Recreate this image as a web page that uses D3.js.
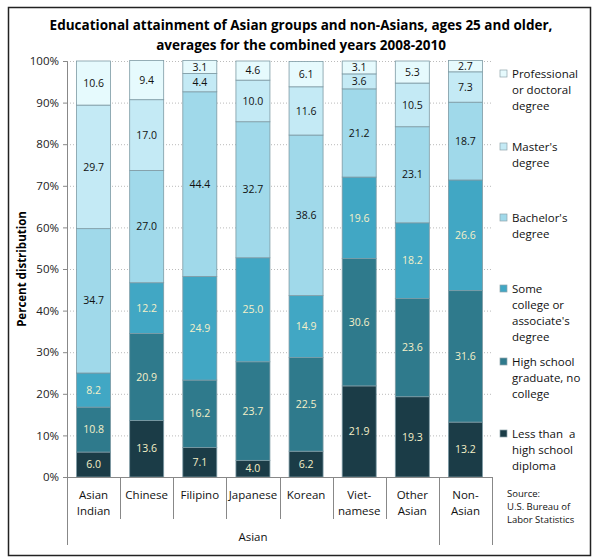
<!DOCTYPE html>
<html lang="en">

<head>
    <meta charset="utf-8">
    <script src="https://d3js.org/d3.v7.min.js"></script>
    <style>
        body { margin: 0; background: #fff; }
        svg { font-family: "Open Sans", "Noto Sans", sans-serif; }
    </style>
</head>

<body>
    <script>
        // groups along the x axis
        const categories = ['Asian Indian', 'Chinese', 'Filipino', 'Japanese', 'Korean', 'Vietnamese', 'Other Asian', 'Non-Asian'];
        const categoryLines = [['Asian', 'Indian'], ['Chinese'], ['Filipino'], ['Japanese'], ['Korean'], ['Viet-', 'namese'], ['Other', 'Asian'], ['Non-', 'Asian']];

        // series, from the bottom of the stack up
        const seriesNames = ['Less than a high school diploma', 'High school graduate, no college', 'Some college or associate\'s degree', 'Bachelor\'s degree', 'Master\'s degree', 'Professional or doctoral degree'];
        const legendLines = [
            ['Less than  a', 'high school', 'diploma'],
            ['High school', 'graduate, no', 'college'],
            ['Some', 'college or', 'associate\'s', 'degree'],
            ['Bachelor\'s', 'degree'],
            ['Master\'s', 'degree'],
            ['Professional', 'or doctoral', 'degree']
        ];

        const lessThanHS = [6.0, 13.6, 7.1, 4.0, 6.2, 21.9, 19.3, 13.2];
        const highSchool = [10.8, 20.9, 16.2, 23.7, 22.5, 30.6, 23.6, 31.6];
        const someCollege = [8.2, 12.2, 24.9, 25.0, 14.9, 19.6, 18.2, 26.6];
        const bachelors = [34.7, 27.0, 44.4, 32.7, 38.6, 21.2, 23.1, 18.7];
        const masters = [29.7, 17.0, 4.4, 10.0, 11.6, 3.6, 10.5, 7.3];
        const professional = [10.6, 9.4, 3.1, 4.6, 6.1, 3.1, 5.3, 2.7];

        const yTicks = [0, 10, 20, 30, 40, 50, 60, 70, 80, 90, 100];

        const colors = ['#1b3c47', '#2f7a8c', '#41a7c4', '#a0d9ea', '#c4eaf5', '#e6fafd'];
        const labelColors = ['#f5f0c8', '#f5f0c8', '#f5f0c8', '#111', '#111', '#111'];

        const allSeries = [lessThanHS, highSchool, someCollege, bachelors, masters, professional];
        const table = categories.map((c, i) => {
            const row = { category: c };
            seriesNames.forEach((s, j) => row[s] = allSeries[j][i]);
            return row;
        });

        const width = 598, height = 560;
        const margin = { top: 61, right: 106, bottom: 83, left: 67 };
        const w = width - margin.left - margin.right;
        const h = height - margin.top - margin.bottom;

        const svg = d3.select('body').append('svg')
            .attr('width', width)
            .attr('height', height);

        // outer frame
        svg.append('rect')
            .attr('x', 8.5).attr('y', 7.5)
            .attr('width', 582).attr('height', 548)
            .attr('fill', 'none')
            .attr('stroke', '#222')
            .attr('stroke-width', 1.5);

        svg.append('text')
            .attr('x', 301).attr('y', 30)
            .attr('text-anchor', 'middle')
            .attr('font-weight', 'bold')
            .attr('font-size', 13.5)
            .text('Educational attainment of Asian groups and non-Asians, ages 25 and older,');
        svg.append('text')
            .attr('x', 301).attr('y', 50)
            .attr('text-anchor', 'middle')
            .attr('font-weight', 'bold')
            .attr('font-size', 13.5)
            .text('averages for the combined years 2008-2010');

        const g = svg.append('g')
            .attr('transform', 'translate(' + margin.left + ',' + margin.top + ')');

        const x = d3.scaleBand()
            .domain(categories)
            .range([0, w])
            .paddingInner(0.36)
            .paddingOuter(0.18);

        const y = d3.scaleLinear()
            .domain([0, 100])
            .range([h, 0]);

        // dotted gridlines
        g.append('g')
            .selectAll('line')
            .data(yTicks.filter(t => t > 0))
            .join('line')
            .attr('x1', 0).attr('x2', w)
            .attr('y1', d => y(d) + 0.5).attr('y2', d => y(d) + 0.5)
            .attr('stroke', '#bbb')
            .attr('stroke-dasharray', '1,2');

        const yAxis = d3.axisLeft(y)
            .tickValues(yTicks)
            .tickFormat(d => d + '%')
            .tickSize(4)
            .tickPadding(4);

        g.append('g')
            .attr('id', 'y-axis')
            .call(yAxis)
            .call(s => s.selectAll('text').attr('font-size', 11.5).attr('fill', '#222').attr('font-family', '"Open Sans", sans-serif'))
            .call(s => s.selectAll('line, path').attr('stroke', '#888'));

        svg.append('text')
            .attr('transform', 'translate(26,' + (margin.top + h / 2) + ') rotate(-90)')
            .attr('text-anchor', 'middle')
            .attr('font-weight', 'bold')
            .attr('font-size', 11.5)
            .text('Percent distribution');

        const stacked = d3.stack().keys(seriesNames)(table);

        const layers = g.selectAll('g.layer')
            .data(stacked)
            .join('g')
            .attr('class', 'layer')
            .attr('fill', (d, i) => colors[i]);

        layers.selectAll('rect')
            .data(d => d)
            .join('rect')
            .attr('x', d => x(d.data.category))
            .attr('y', d => y(d[1]))
            .attr('width', x.bandwidth())
            .attr('height', d => y(d[0]) - y(d[1]))
            .attr('stroke', '#7d9aa4')
            .attr('stroke-width', 0.8);

        layers.each(function (layer, i) {
            d3.select(this).selectAll('text')
                .data(layer)
                .join('text')
                .attr('x', d => x(d.data.category) + x.bandwidth() / 2)
                .attr('y', d => (y(d[0]) + y(d[1])) / 2)
                .attr('dy', '0.35em')
                .attr('text-anchor', 'middle')
                .attr('font-size', 10.5)
                .attr('fill', labelColors[i])
                .text(d => (d[1] - d[0]).toFixed(1));
        });

        // category axis with group dividers
        const step = x.step();
        const axisG = g.append('g').attr('transform', 'translate(0,' + h + ')');
        axisG.append('line')
            .attr('x1', 0).attr('x2', w)
            .attr('y1', 0.5).attr('y2', 0.5)
            .attr('stroke', '#888');
        d3.range(categories.length + 1).forEach(i => {
            const long = (i === 0 || i === 7 || i === 8);
            axisG.append('line')
                .attr('x1', Math.round(i * step) + 0.5).attr('x2', Math.round(i * step) + 0.5)
                .attr('y1', 0).attr('y2', long ? 68 : 42)
                .attr('stroke', '#888');
        });

        categories.forEach((c, i) => {
            const t = axisG.append('text')
                .attr('x', x(c) + x.bandwidth() / 2)
                .attr('y', 22)
                .attr('text-anchor', 'middle')
                .attr('font-size', 11.5)
                .attr('fill', '#111');
            categoryLines[i].forEach((line, k) => {
                t.append('tspan')
                    .attr('x', x(c) + x.bandwidth() / 2)
                    .attr('dy', k === 0 ? 0 : 16)
                    .text(line);
            });
        });

        axisG.append('text')
            .attr('x', (7 * step) / 2)
            .attr('y', 64)
            .attr('text-anchor', 'middle')
            .attr('font-size', 11.5)
            .attr('fill', '#111')
            .text('Asian');

        // legend, top item first (vertical centre of first line)
        const legendTop = [74, 147, 218, 289, 362, 434];
        const legend = svg.append('g').attr('class', 'legend');
        [5, 4, 3, 2, 1, 0].forEach((si, k) => {
            legend.append('rect')
                .attr('x', 500).attr('y', legendTop[k] - 4)
                .attr('width', 7).attr('height', 7)
                .attr('fill', colors[si])
                .attr('stroke', '#8fa4ab')
                .attr('stroke-width', 0.7);
            const t = legend.append('text')
                .attr('x', 512).attr('y', legendTop[k] + 4)
                .attr('font-size', 11.5)
                .attr('fill', '#111');
            legendLines[si].forEach((line, j) => {
                t.append('tspan')
                    .attr('x', 512)
                    .attr('dy', j === 0 ? 0 : 16)
                    .attr('xml:space', 'preserve')
                    .text(line);
            });
        });

        const src = svg.append('text')
            .attr('x', 507).attr('y', 497)
            .attr('font-size', 9.5)
            .attr('fill', '#111');
        ['Source:', 'U.S. Bureau of', 'Labor Statistics'].forEach((line, j) => {
            src.append('tspan').attr('x', 507).attr('dy', j === 0 ? 0 : 13).text(line);
        });
    </script>

</body>

</html>
